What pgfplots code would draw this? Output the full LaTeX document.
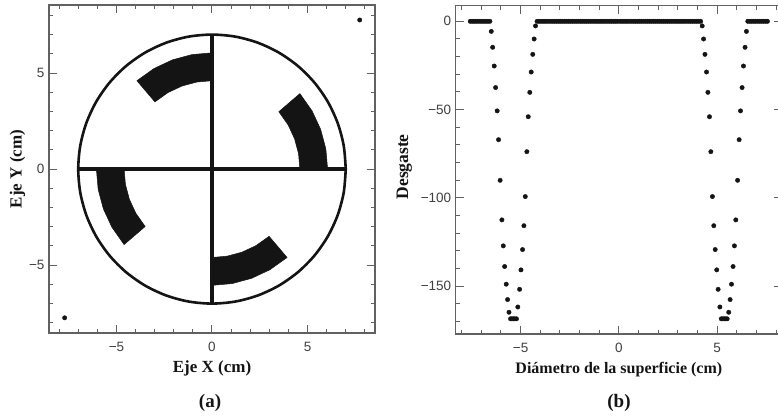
\documentclass[border=0pt]{standalone}
\usepackage{fontspec}
\setmainfont{Liberation Serif}
\newfontfamily\tickfont{Liberation Sans}
\usepackage{pgfplots}
\pgfplotsset{compat=1.18}
\definecolor{ink}{gray}{0.08}
\definecolor{frame}{gray}{0.38}
\pgfplotsset{common/.style={
  scale only axis, anchor=south west,
  axis line style={frame,line width=1.3pt},
  tick align=inside, tick pos=both,
  major tick length=8pt, minor tick length=4pt,
  every tick/.style={frame,line width=1pt},
  every minor tick/.style={frame,line width=1pt},
  tick label style={font=\tickfont\fontsize{13.5}{15}\selectfont,text=black!75},
  xticklabel style={yshift=-6pt},
  yticklabel style={xshift=-1pt},
  xtick={-5,0,5}, xticklabels={−5,0,5},
  minor xtick={-8,-7,...,8},
}}
\begin{document}
\begin{tikzpicture}[x=1pt,y=1pt]
\path[use as bounding box,clip] (0,0) rectangle (778,416);
\begin{axis}[common, at={(49pt,83pt)}, width=326pt, height=328pt,
  xmin=-8.53,xmax=8.53,ymin=-8.53,ymax=8.54,
  ytick={-5,0,5}, yticklabels={−5,0,5}, minor ytick={-8,-7,...,8},
  label style={font=\bfseries\fontsize{17}{19}\selectfont,text=ink},
  xlabel={Eje X (cm)}, ylabel={Eje Y (cm)},
  xlabel style={yshift=-2pt}, ylabel style={yshift=-3pt}]
\addplot[fill=ink,draw=ink,line width=0.5pt,line join=round] coordinates {(6.05,0)(5.958,1.050)(5.685,2.069)(5.239,3.025)(4.600,3.929)(3.498,2.987)(3.984,2.3)(4.323,1.573)(4.530,0.799)(4.6,0)} --cycle;
\addplot[fill=ink,draw=ink,line width=0.5pt,line join=round] coordinates {(0,6.05)(-1.05,5.958)(-2.069,5.685)(-3.025,5.239)(-3.929,4.6)(-2.987,3.498)(-2.3,3.984)(-1.573,4.323)(-0.799,4.530)(0,4.6)} --cycle;
\addplot[fill=ink,draw=ink,line width=0.5pt,line join=round] coordinates {(-6.05,0)(-5.958,-1.050)(-5.685,-2.069)(-5.239,-3.025)(-4.600,-3.929)(-3.498,-2.987)(-3.984,-2.3)(-4.323,-1.573)(-4.530,-0.799)(-4.6,0)} --cycle;
\addplot[fill=ink,draw=ink,line width=0.5pt,line join=round] coordinates {(0,-6.05)(1.05,-5.958)(2.069,-5.685)(3.025,-5.239)(3.929,-4.6)(2.987,-3.498)(2.3,-3.984)(1.573,-4.323)(0.799,-4.530)(0,-4.6)} --cycle;
\addplot[ink,line width=2.6pt,smooth,mark=none] coordinates {
(7,0)(6.894,1.216)(6.578,2.394)(6.062,3.5)(5.362,4.5)(4.5,5.362)(3.5,6.062)(2.394,6.578)(1.216,6.894)
(0,7)(-1.216,6.894)(-2.394,6.578)(-3.5,6.062)(-4.5,5.362)(-5.362,4.5)(-6.062,3.5)(-6.578,2.394)(-6.894,1.216)
(-7,0)(-6.894,-1.216)(-6.578,-2.394)(-6.062,-3.5)(-5.362,-4.5)(-4.5,-5.362)(-3.5,-6.062)(-2.394,-6.578)(-1.216,-6.894)
(0,-7)(1.216,-6.894)(2.394,-6.578)(3.5,-6.062)(4.5,-5.362)(5.362,-4.5)(6.062,-3.5)(6.578,-2.394)(6.894,-1.216)(7,0)};
\addplot[ink,line width=3.4pt,mark=none] coordinates {(-7.05,0)(7.05,0)};
\addplot[ink,line width=4.4pt,mark=none] coordinates {(0,-7.05)(0,7.05)};
\addplot[only marks,mark=*,mark size=2.2pt,mark options={fill=ink,draw=ink}] coordinates {(-7.71,-7.74)(7.73,7.76)};
\end{axis}
\begin{axis}[common, at={(455.7pt,82pt)}, width=326.3pt, height=328.4pt,
  xmin=-8.3,xmax=8.3,ymin=-177,ymax=8.9,
  ytick={-150,-100,-50,0}, yticklabels={−150,−100,−50,0},
  minor ytick={-170,-160,...,0},
  xlabel={Diámetro de la superficie (cm)}, ylabel={Desgaste},
  xlabel style={font=\bfseries\fontsize{16}{18}\selectfont,text=ink,yshift=-2pt},
  ylabel style={font=\bfseries\fontsize{17.5}{19}\selectfont,text=ink,yshift=2pt,xshift=3pt}]
\addplot[only marks,mark=*,mark size=2.2pt,mark options={fill=ink,draw=ink}] coordinates {
(-7.56,0)(-7.46,0)(-7.36,0)(-7.26,0)(-7.16,0)(-7.06,0)(-6.96,0)(-6.86,0)(-6.76,0)(-6.66,0)(-6.56,0)
(-6.49,-5.7)(-6.42,-14.7)(-6.34,-25.3)(-6.27,-37.5)(-6.19,-50.7)(-6.12,-67)(-6.04,-90)(-5.95,-112.4)(-5.88,-127.1)(-5.81,-138.8)(-5.73,-148.8)(-5.66,-157.5)(-5.59,-164.7)
(-5.51,-168.4)(-5.44,-168.4)(-5.36,-168.4)(-5.29,-168.4)(-5.21,-168.4)
(-5.14,-161.7)(-5.05,-151.7)(-4.98,-140.7)(-4.90,-129.2)(-4.83,-115.7)(-4.76,-99.2)(-4.68,-73.8)(-4.61,-54)(-4.53,-40.2)(-4.46,-28.7)(-4.38,-18.7)(-4.31,-10)(-4.24,-2.6)
(-4.16,0)(-4.06,0)(-3.96,0)(-3.86,0)(-3.76,0)(-3.66,0)(-3.56,0)(-3.46,0)(-3.36,0)(-3.26,0)(-3.16,0)(-3.06,0)(-2.96,0)(-2.86,0)(-2.76,0)(-2.66,0)(-2.56,0)(-2.46,0)(-2.36,0)(-2.26,0)(-2.16,0)(-2.06,0)(-1.96,0)(-1.86,0)(-1.76,0)(-1.66,0)(-1.56,0)(-1.46,0)(-1.36,0)(-1.26,0)(-1.16,0)(-1.06,0)(-0.96,0)(-0.86,0)(-0.76,0)(-0.66,0)(-0.56,0)(-0.46,0)(-0.36,0)(-0.26,0)(-0.16,0)(-0.06,0)
(0.06,0)(0.16,0)(0.26,0)(0.36,0)(0.46,0)(0.56,0)(0.66,0)(0.76,0)(0.86,0)(0.96,0)(1.06,0)(1.16,0)(1.26,0)(1.36,0)(1.46,0)(1.56,0)(1.66,0)(1.76,0)(1.86,0)(1.96,0)(2.06,0)(2.16,0)(2.26,0)(2.36,0)(2.46,0)(2.56,0)(2.66,0)(2.76,0)(2.86,0)(2.96,0)(3.06,0)(3.16,0)(3.26,0)(3.36,0)(3.46,0)(3.56,0)(3.66,0)(3.76,0)(3.86,0)(3.96,0)(4.06,0)(4.16,0)
(4.24,-2.6)(4.31,-10)(4.38,-18.7)(4.46,-28.7)(4.53,-40.2)(4.61,-54)(4.68,-73.8)(4.76,-99.2)(4.83,-115.7)(4.90,-129.2)(4.98,-140.7)(5.05,-151.7)(5.14,-161.7)
(5.21,-168.4)(5.29,-168.4)(5.36,-168.4)(5.44,-168.4)(5.51,-168.4)
(5.59,-164.7)(5.66,-157.5)(5.73,-148.8)(5.81,-138.8)(5.88,-127.1)(5.95,-112.4)(6.04,-90)(6.12,-67)(6.19,-50.7)(6.27,-37.5)(6.34,-25.3)(6.42,-14.7)(6.49,-5.7)
(6.56,0)(6.66,0)(6.76,0)(6.86,0)(6.96,0)(7.06,0)(7.16,0)(7.26,0)(7.36,0)(7.46,0)(7.56,0)};
\end{axis}
\node[font=\bfseries\fontsize{19}{21}\selectfont,text=ink] at (210,13) {(a)};
\node[font=\bfseries\fontsize{19}{21}\selectfont,text=ink] at (619,13) {(b)};
\end{tikzpicture}
\end{document}
